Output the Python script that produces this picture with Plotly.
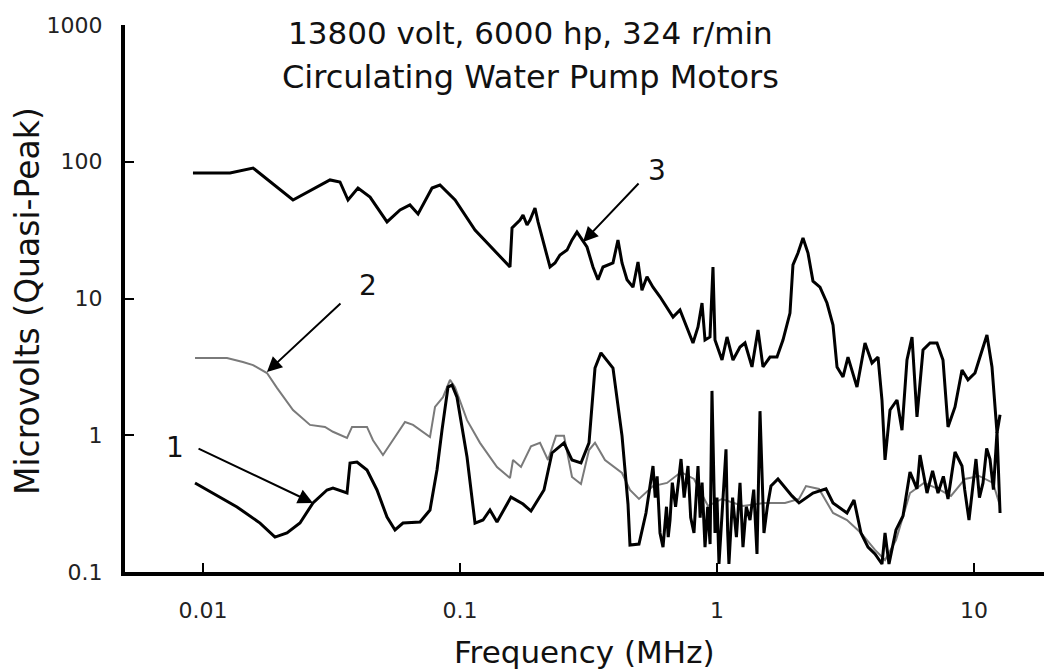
import math
import plotly.graph_objects as go

# ---------------- data (frequency in MHz, level in microvolts quasi-peak) ----------------
freq_3 = [0.00914, 0.01274, 0.01566, 0.0224, 0.0312, 0.03412, 0.03666, 0.04009, 0.04467, 0.052,
          0.05845, 0.06385, 0.06867, 0.07784, 0.08357, 0.0957, 0.1144, 0.1524, 0.1565, 0.1594,
          0.1712, 0.1759, 0.1823, 0.1873, 0.1958, 0.2012, 0.2104, 0.224, 0.2342, 0.2449,
          0.2609, 0.2728, 0.2852, 0.2984, 0.312, 0.3292, 0.3443, 0.3601, 0.3938, 0.4118,
          0.427, 0.4466, 0.4711, 0.4928, 0.5105, 0.534, 0.5636, 0.6001, 0.639, 0.6745,
          0.7178, 0.7646, 0.8065, 0.8435, 0.8744, 0.8982, 0.9392, 0.9647, 0.9822, 1.046,
          1.094, 1.154, 1.229, 1.285, 1.368, 1.444, 1.51, 1.608, 1.712, 1.806,
          1.923, 1.975, 2.066, 2.161, 2.26, 2.363, 2.516, 2.679, 2.828, 2.931,
          3.093, 3.234, 3.505, 3.766, 4.01, 4.232, 4.385, 4.506, 4.712, 5.016,
          5.246, 5.486, 5.739, 6.0, 6.333, 6.745, 7.178, 7.575, 7.924, 8.436,
          8.981, 9.477, 10.09, 10.55, 11.23, 11.75, 12.29, 12.63]
level_3 = [82.7, 82.7, 90.0, 52.5, 73.6, 71.1, 52.5, 64.3, 55.2, 36.3,
           44.4, 48.3, 41.5, 64.3, 67.6, 52.5, 31.7, 18.2, 17.0, 32.8,
           37.5, 40.8, 34.5, 37.5, 45.9, 36.3, 26.8, 17.0, 18.2, 20.8,
           22.6, 26.8, 30.6, 26.8, 23.8, 17.0, 13.7, 17.0, 18.2, 26.8,
           18.2, 13.7, 12.1, 18.5, 11.5, 14.4, 12.1, 10.3, 8.67, 7.32,
           8.24, 6.19, 4.73, 6.19, 9.27, 4.97, 5.23, 17.0, 4.97, 3.55,
           5.23, 3.55, 4.42, 4.73, 3.16, 5.88, 3.16, 3.73, 3.73, 4.97,
           7.83, 17.6, 21.5, 27.7, 21.5, 13.4, 12.1, 9.27, 6.40, 3.16,
           2.67, 3.73, 2.25, 4.73, 3.38, 3.73, 1.81, 0.66, 1.53, 1.81,
           1.09, 3.55, 5.23, 1.36, 4.20, 4.73, 4.73, 3.55, 1.15, 1.61,
           3.00, 2.54, 2.85, 3.73, 5.41, 3.16, 1.04, 1.41]

freq_2 = [0.00931, 0.0124, 0.0143, 0.01566, 0.01774, 0.0194, 0.0224, 0.02609, 0.02983, 0.03204,
          0.03634, 0.03801, 0.04346, 0.04586, 0.05015, 0.05486, 0.06109, 0.06566, 0.07643, 0.07994,
          0.08587, 0.09143, 0.09561, 0.1065, 0.1196, 0.1393, 0.1565, 0.1608, 0.1727, 0.1889,
          0.2048, 0.22, 0.2363, 0.2539, 0.2728, 0.2956, 0.3177, 0.3352, 0.3666, 0.427,
          0.4586, 0.4971, 0.5636, 0.639, 0.7245, 0.8137, 0.9225, 1.046, 1.262, 1.523,
          1.839, 2.085, 2.22, 2.494, 2.828, 3.205, 3.633, 4.12, 4.506, 4.971,
          5.636, 6.39, 7.244, 8.137, 9.226, 10.46, 11.86, 12.63]
level_2 = [3.67, 3.67, 3.43, 3.26, 2.85, 2.22, 1.53, 1.19, 1.15, 1.06,
           0.955, 1.15, 1.15, 0.92, 0.717, 0.92, 1.25, 1.19, 0.97, 1.61,
           1.90, 2.54, 2.25, 1.29, 0.88, 0.586, 0.487, 0.659, 0.586, 0.83,
           0.88, 0.659, 0.99, 0.99, 0.495, 0.44, 0.78, 0.88, 0.659, 0.53,
           0.398, 0.342, 0.425, 0.448, 0.538, 0.479, 0.304, 0.342, 0.304, 0.32,
           0.32, 0.342, 0.425, 0.405, 0.27, 0.24, 0.193, 0.145, 0.1224, 0.171,
           0.378, 0.448, 0.405, 0.36, 0.479, 0.504, 0.448, 0.304]

freq_1 = [0.00931, 0.01356, 0.01667, 0.01906, 0.02122, 0.02384, 0.02679, 0.03038, 0.03204, 0.03634,
          0.03733, 0.03974, 0.04346, 0.04753, 0.052, 0.05586, 0.06, 0.06991, 0.07643, 0.08136,
          0.08511, 0.08982, 0.09309, 0.09734, 0.1065, 0.1144, 0.1229, 0.1308, 0.1393, 0.147,
          0.1579, 0.1759, 0.1889, 0.2122, 0.228, 0.2539, 0.2728, 0.2956, 0.3177, 0.3352,
          0.3536, 0.3938, 0.427, 0.4505, 0.4586, 0.4971, 0.51, 0.5293, 0.5636, 0.575,
          0.585, 0.6001, 0.6165, 0.636, 0.646, 0.6565, 0.67, 0.69, 0.7245, 0.745,
          0.7712, 0.79, 0.8137, 0.83, 0.8435, 0.86, 0.875, 0.8982, 0.92, 0.94,
          0.9561, 0.9822, 1.0, 1.018, 1.05, 1.084, 1.1, 1.113, 1.15, 1.19,
          1.229, 1.262, 1.3, 1.344, 1.39, 1.431, 1.47, 1.523, 1.57, 1.622,
          1.727, 1.958, 2.085, 2.363, 2.655, 2.828, 3.205, 3.413, 3.633, 3.869,
          4.12, 4.385, 4.506, 4.669, 4.971, 5.293, 5.636, 6.0, 6.165, 6.564,
          6.9, 7.244, 7.6, 7.924, 8.436, 8.981, 9.2, 9.562, 10.18, 10.5,
          10.84, 11.2, 11.54, 11.9, 12.29, 12.63]
level_1 = [0.448, 0.299, 0.228, 0.180, 0.193, 0.228, 0.32, 0.398, 0.411, 0.378,
           0.627, 0.637, 0.557, 0.398, 0.252, 0.203, 0.228, 0.232, 0.284, 0.557,
           1.09, 2.25, 2.33, 1.90, 0.693, 0.228, 0.24, 0.284, 0.232, 0.275,
           0.353, 0.314, 0.279, 0.398, 0.742, 0.88, 0.659, 0.627, 0.88, 3.10,
           4.00, 3.10, 0.99, 0.314, 0.1575, 0.16, 0.2, 0.27, 0.596, 0.35,
           0.5, 0.193, 0.152, 0.3, 0.18, 0.24, 0.45, 0.3, 0.67, 0.35,
           0.596, 0.25, 0.193, 0.4, 0.596, 0.25, 0.45, 0.152, 0.3, 0.16,
           2.11, 0.193, 0.35, 0.1144, 0.3, 0.79, 0.2, 0.1144, 0.35, 0.18,
           0.448, 0.152, 0.3, 0.24, 0.4, 0.1354, 1.50, 0.193, 0.3, 0.425,
           0.479, 0.36, 0.32, 0.378, 0.405, 0.32, 0.27, 0.336, 0.193, 0.152,
           0.1354, 0.1144, 0.193, 0.1144, 0.203, 0.257, 0.538, 0.405, 0.717, 0.378,
           0.55, 0.378, 0.5, 0.342, 0.754, 0.596, 0.4, 0.24, 0.67, 0.35,
           0.448, 0.8, 0.67, 0.4, 1.06, 0.27]

x_tick_vals = [0.01, 0.1, 1, 10]
x_tick_text = ["0.01", "0.1", "1", "10"]
y_tick_vals = [0.1, 1, 10, 100, 1000]
y_tick_text = ["0.1", "1", "10", "100", "1000"]

title_lines = ["13800 volt, 6000 hp, 324 r/min", "Circulating Water Pump Motors"]
x_title = "Frequency (MHz)"
y_title = "Microvolts (Quasi-Peak)"

# curve labels: (text, label freq, label level, arrow-tip freq, arrow-tip level, tail dx, tail dy)
curve_labels = [
    ("1", 0.00778, 0.82, 0.0268, 0.32, -116, -55),
    ("2", 0.0439, 12.5, 0.01774, 2.90, 75, -70),
    ("3", 0.584, 87.0, 0.301, 25.9, 57, -60),
]

FONT = "DejaVu Sans"

fig = go.Figure()
fig.add_trace(go.Scatter(x=freq_2, y=level_2, mode="lines",
                         line=dict(color="#7a7a7a", width=2), name="2"))
fig.add_trace(go.Scatter(x=freq_1, y=level_1, mode="lines",
                         line=dict(color="black", width=3), name="1"))
fig.add_trace(go.Scatter(x=freq_3, y=level_3, mode="lines",
                         line=dict(color="black", width=3), name="3"))

annotations = []
title_sizes = [31, 32]
title_y = [0.9854, 0.905]
for i, line in enumerate(title_lines):
    annotations.append(dict(text=line, xref="paper", yref="paper", x=0.4407,
                            y=title_y[i], xanchor="center", yanchor="middle",
                            showarrow=False,
                            font=dict(family=FONT, size=title_sizes[i], color="#111")))
annotations.append(dict(text=x_title, xref="paper", yref="paper", x=0.5, y=-0.147,
                        xanchor="center", yanchor="middle", showarrow=False,
                        font=dict(family=FONT, size=31, color="#111")))
annotations.append(dict(text=y_title, xref="paper", yref="paper", x=-0.1066, y=0.4954,
                        xanchor="center", yanchor="middle", textangle=-90, showarrow=False,
                        font=dict(family=FONT, size=33, color="#111")))
for txt, lx, ly, tx, ty, dx, dy in curve_labels:
    annotations.append(dict(text=txt, x=math.log10(lx), y=math.log10(ly), xref="x", yref="y",
                            showarrow=False, xanchor="center", yanchor="middle",
                            font=dict(family=FONT, size=28, color="#111")))
    annotations.append(dict(text="", x=math.log10(tx), y=math.log10(ty), xref="x", yref="y",
                            showarrow=True, ax=dx, ay=dy, arrowhead=2, arrowsize=1.5,
                            arrowwidth=2, arrowcolor="black", standoff=0))

axis_common = dict(showline=True, linecolor="black", linewidth=4, ticks="inside",
                   ticklen=9, tickwidth=2, tickcolor="black", showgrid=False,
                   zeroline=False, tickfont=dict(family=FONT, size=22, color="#222"))

fig.update_layout(
    width=1044, height=670,
    margin=dict(l=125, r=0, t=25, b=98),
    paper_bgcolor="white", plot_bgcolor="white",
    showlegend=False,
    annotations=annotations,
    xaxis=dict(type="log", range=[-2.3035, 1.2724], tickvals=x_tick_vals,
               ticktext=x_tick_text, ticklabelstandoff=16, **axis_common),
    yaxis=dict(type="log", range=[-1, 3], tickvals=y_tick_vals,
               ticktext=y_tick_text, ticklabelstandoff=14, **axis_common),
)

fig.write_html("out.html")
